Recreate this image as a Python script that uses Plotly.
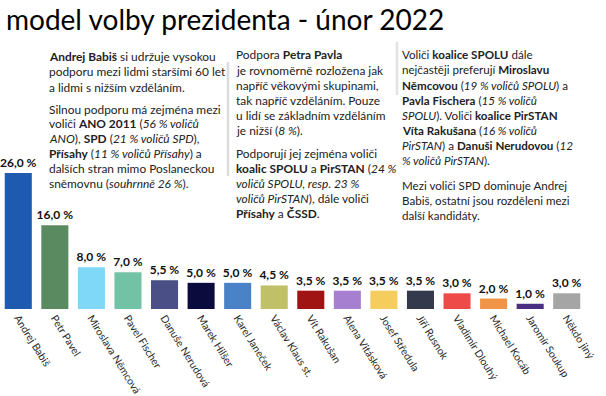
import plotly.graph_objects as go

candidates = ["Andrej Babiš", "Petr Pavel", "Miroslava Němcová", "Pavel Fischer",
              "Danuše Nerudová", "Marek Hilšer", "Karel Janeček", "Václav Klaus st.",
              "Vít Rakušan", "Alena Vitásková", "Josef Středula", "Jiří Rusnok",
              "Vladimír Dlouhý", "Michael Kocáb", "Jaromír Soukup", "Někdo jiný"]
values = [26.0, 16.0, 8.0, 7.0, 5.5, 5.0, 5.0, 4.5, 3.5, 3.5, 3.5, 3.5, 3.0, 2.0, 1.0, 3.0]
colors = ["#1e5bb0", "#5a8a60", "#80d8f8", "#72c2a6", "#4a4f85", "#0b0b3d", "#4a82c8",
          "#c0c068", "#a01414", "#a77fd0", "#f4cd5c", "#343a4c", "#ef4a4a", "#f09448",
          "#4b2f80", "#a5a5a5"]
labels = [f"{v:.1f}".replace(".", ",") + " %" for v in values]

title = "model volby prezidenta - únor 2022"

block1_p1 = ["<b>Andrej Babiš</b> si udržuje vysokou",
             "podporu mezi lidmi staršími 60 let",
             "a lidmi s nižším vzděláním."]
block1_p2 = ["Silnou podporu má zejména mezi",
             "voliči <b>ANO 2011</b> (<i>56 % voličů</i>",
             "<i>ANO</i>), <b>SPD</b> (<i>21 % voličů SPD</i>),",
             "<b>Přísahy</b> (<i>11 % voličů Přísahy</i>) a",
             "dalších stran mimo Poslaneckou",
             "sněmovnu (<i>souhrnně 26 %</i>)."]
block2_p1 = ["Podpora <b>Petra Pavla</b>",
             "je rovnoměrně rozložena jak",
             "napříč věkovými skupinami,",
             "tak napříč vzděláním. Pouze",
             "u lidí se základním vzděláním",
             "je nižší (<i>8 %</i>)."]
block2_p2 = ["Podporují jej zejména voliči",
             "<b>koalic SPOLU</b> a <b>PirSTAN</b> (<i>24 %</i>",
             "<i>voličů SPOLU, resp. 23 %</i>",
             "<i>voličů PirSTAN</i>), dále voliči",
             "<b>Přísahy</b> a <b>ČSSD</b>."]
block3_p1 = ["Voliči <b>koalice SPOLU</b> dále",
             "nejčastěji preferují <b>Miroslavu</b>",
             "<b>Němcovou</b> (<i>19 % voličů SPOLU</i>) a",
             "<b>Pavla Fischera</b> (<i>15 % voličů</i>",
             "<i>SPOLU</i>). Voliči <b>koalice PirSTAN</b>",
             "<b>Víta Rakušana</b> (<i>16 % voličů</i>",
             "<i>PirSTAN</i>) a <b>Danuši Nerudovou</b> (<i>12</i>",
             "<i>% voličů PirSTAN</i>)."]
block3_p2 = ["Mezi voliči SPD dominuje Andrej",
             "Babiš, ostatní jsou rozděleni mezi",
             "další kandidáty."]

W, H = 606, 396
ML, MR, MT, MB = 0, 21, 152, 87
PW, PH = W - ML - MR, H - MT - MB

def px(x):
    return (x - ML) / PW

def py(y):
    return (H - MB - y) / PH

FONT = "Lato"

fig = go.Figure(go.Bar(
    x=candidates, y=values, marker=dict(color=colors, line=dict(width=0)),
    width=0.74, text=labels, textposition="outside", cliponaxis=False,
    constraintext="none",
    textfont=dict(family=FONT, size=12, color="#111111"),
    texttemplate="<b>%{text}</b>", hoverinfo="skip",
))

annotations = [dict(text=title, x=px(4), y=py(19), xref="paper", yref="paper",
                    xanchor="left", yanchor="middle", showarrow=False,
                    font=dict(family=FONT, size=28, color="#000000"))]

def add_par(lines, x, y0, dy, size=11.9):
    for i, t in enumerate(lines):
        annotations.append(dict(text=t, x=px(x), y=py(y0 + i * dy), xref="paper", yref="paper",
                                xanchor="left", yanchor="middle", align="left", showarrow=False,
                                borderpad=0,
                                font=dict(family=FONT, size=size, color="#222222")))

add_par(block1_p1, 48, 57, 15)
add_par(block1_p2, 48, 109, 14.8)
add_par(block2_p1, 235, 55, 15.1)
add_par(block2_p2, 235, 153, 15.2)
add_par(block3_p1, 401, 55, 15, size=11.6)
add_par(block3_p2, 401, 185, 15, size=11.6)

shapes = [
    dict(type="line", xref="paper", yref="paper", x0=px(228), x1=px(228), y0=py(62), y1=py(176),
         line=dict(color="#dcdcdc", width=2.5)),
    dict(type="line", xref="paper", yref="paper", x0=px(397), x1=px(397), y0=py(42), y1=py(95),
         line=dict(color="#e2e2e2", width=2.5)),
]

fig.update_layout(
    width=W, height=H, margin=dict(l=ML, r=MR, t=MT, b=MB),
    paper_bgcolor="white", plot_bgcolor="white", showlegend=False,
    annotations=annotations, shapes=shapes,
    xaxis=dict(tickangle=58, tickfont=dict(family=FONT, size=10.5, color="#2a2a2a"),
               showgrid=False, showline=False, ticks="", range=[-0.5, 15.5]),
    yaxis=dict(range=[0, 30], visible=False),
)

fig.write_html("out.html", config={"displayModeBar": False},
               post_script="document.body.style.margin='0';")
